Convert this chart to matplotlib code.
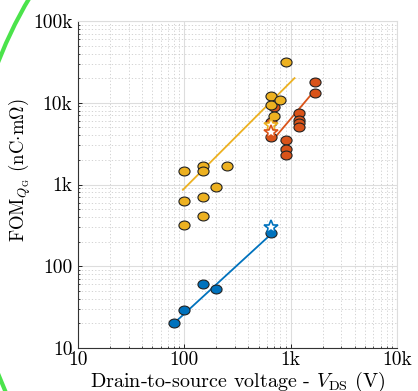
import matplotlib
matplotlib.use("Agg")
import matplotlib.pyplot as plt
import matplotlib.path as mpath
import matplotlib.transforms as mtrans
from matplotlib.patches import Circle

plt.rcParams['font.family'] = ['cmr10', 'DejaVu Serif']
plt.rcParams['mathtext.fontset'] = 'cm'
plt.rcParams['axes.formatter.use_mathtext'] = True

# data
blue_x = [80, 100, 150, 200, 650]
blue_y = [20, 29, 60, 52, 255]
blue_star_x = [650]
blue_star_y = [300]
blue_fit_x = [83, 650]
blue_fit_y = [21, 245]

yellow_x = [100, 100, 100, 150, 150, 150, 150, 200, 250, 650, 650, 700, 800, 900]
yellow_y = [1450, 620, 322, 1690, 1470, 700, 407, 927, 1706, 12150, 9270, 6870, 10790, 31600]
yellow_star_x = [650]
yellow_star_y = [5350]
yellow_fit_x = [97, 1087]
yellow_fit_y = [861, 20000]

orange_x = [650, 650, 700, 900, 900, 900, 1200, 1200, 1200, 1200, 1700, 1700]
orange_y = [3850, 5860, 8770, 3510, 2720, 2300, 7550, 6150, 5600, 5000, 18000, 13000]
orange_star_x = [650]
orange_star_y = [4400]
orange_fit_x = [715, 1690]
orange_fit_y = [3780, 14260]

xticks = [10, 100, 1000, 10000]
xticklabels = ['10', '100', '1k', '10k']
yticks = [10, 100, 1000, 10000, 100000]
yticklabels = ['10', '100', '1k', '10k', '100k']

blue = '#0072BD'
orange = '#D95319'
yellow = '#EDB120'

# slightly flattened circle marker
ell = mpath.Path.unit_circle().transformed(mtrans.Affine2D().scale(1.0, 0.8))

fig = plt.figure(figsize=(4.18, 3.91), dpi=100)
ax = fig.add_axes([78/418, 43/391, 319/418, 327/391])

ax.plot(yellow_fit_x, yellow_fit_y, color=yellow, lw=1.3, zorder=2)
ax.plot(orange_fit_x, orange_fit_y, color=orange, lw=1.3, zorder=2)
ax.plot(blue_fit_x, blue_fit_y, color=blue, lw=1.3, zorder=2)

ax.plot(orange_x, orange_y, ls='none', marker=ell, ms=8, mfc=orange, mec='#222222', mew=0.8, zorder=3)
ax.plot(yellow_x, yellow_y, ls='none', marker=ell, ms=8, mfc=yellow, mec='#222222', mew=0.8, zorder=3)
ax.plot(blue_x, blue_y, ls='none', marker=ell, ms=8, mfc=blue, mec='#222222', mew=0.8, zorder=3)

ax.plot(yellow_star_x, yellow_star_y, ls='none', marker='*', ms=10, mfc='white', mec=yellow, mew=1.2, zorder=4)
ax.plot(orange_star_x, orange_star_y, ls='none', marker='*', ms=10, mfc='white', mec=orange, mew=1.2, zorder=4)
ax.plot(blue_star_x, blue_star_y, ls='none', marker='*', ms=10, mfc='white', mec=blue, mew=1.2, zorder=4)

ax.set_xscale('log')
ax.set_yscale('log')
ax.set_xlim(10, 10000)
ax.set_ylim(10, 100000)
ax.set_xticks(xticks)
ax.set_xticklabels(xticklabels)
ax.set_yticks(yticks)
ax.set_yticklabels(yticklabels)

ax.grid(True, which='major', color='#dddddd', lw=0.8)
ax.grid(True, which='minor', color='#cccccc', lw=0.6, ls=(0, (1.5, 2.5)))
ax.set_axisbelow(True)
ax.tick_params(which='both', direction='in', labelsize=14, pad=4)
ax.tick_params(which='major', length=3, width=0.6)
ax.tick_params(which='minor', length=1.5, width=0.5)
ax.tick_params(axis='x', pad=2)
for s in ['top', 'right']:
    ax.spines[s].set_color('#dddddd')
for s in ['left', 'bottom']:
    ax.spines[s].set_color('#333333')
    ax.spines[s].set_linewidth(0.8)

ax.set_xlabel(r'Drain-to-source voltage - $V_{\rm DS}$ (V)', fontsize=14.5)
ax.xaxis.set_label_coords(0.5, -0.066)
ax.set_ylabel(r'FOM$_{Q_{\rm G}}$ (nC$\cdot$m$\Omega$)', fontsize=13.5)
ax.yaxis.set_label_coords(-0.14, 0.545)

# green arc at left edge of the slide
arc = Circle((400, 173), 431, fill=False, color='#4be34b', lw=3, transform=None, clip_on=False, zorder=10)
fig.patches.append(arc)

fig.savefig('out.png', dpi=100)
